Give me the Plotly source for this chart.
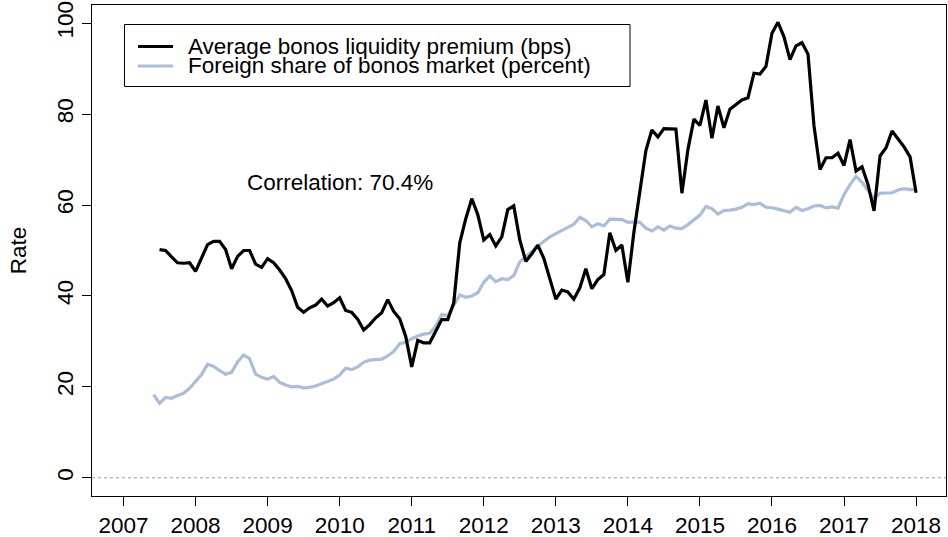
import pandas as pd
import plotly.graph_objects as go

# Monthly observations
blue_start = "2007-06"
black_start = "2007-07"

premium_bps = [
    50.2, 50.0, 48.6, 47.3, 47.2, 47.3, 45.4, 48.3, 51.3, 52.0, 52.0, 50.2,
    46.0, 48.7, 50.0, 50.0, 47.0, 46.3, 48.2, 47.3, 45.7, 43.8, 41.2, 37.5,
    36.4, 37.4, 38.0, 39.3, 37.8, 38.5, 39.6, 36.8, 36.4, 34.9, 32.5, 33.7,
    35.2, 36.3, 39.2, 36.6, 35.0, 31.1, 24.4, 30.2, 29.7, 29.7, 32.2, 34.8,
    34.8, 38.5, 51.7, 57.0, 61.4, 57.9, 52.3, 53.5, 51.0, 53.0, 59.0, 59.8,
    52.3, 47.6, 49.3, 51.2, 48.3, 44.0, 39.3, 41.3, 40.9, 39.3, 41.8, 46.0,
    41.6, 43.6, 44.7, 53.9, 50.0, 51.2, 43.0, 54.0, 63.5, 72.0, 76.5, 75.0,
    76.8, 76.8, 76.7, 62.6, 72.2, 78.9, 77.5, 83.1, 74.7, 81.8, 77.0, 81.1,
    82.2, 83.1, 83.6, 89.0, 88.8, 90.5, 97.8, 100.2, 97.0, 92.0, 95.0, 95.7,
    93.2, 77.4, 67.8, 70.4, 70.4, 71.4, 68.7, 74.4, 67.5, 68.4, 64.5, 58.7,
    70.8, 72.6, 76.3, 74.6, 72.8, 70.6, 62.7,
]

foreign_share = [
    18.3, 16.4, 17.7, 17.5, 18.1, 18.6, 19.7, 21.1, 22.7, 25.0, 24.5, 23.6,
    22.8, 23.2, 25.5, 27.0, 26.2, 22.8, 22.1, 21.7, 22.3, 21.0, 20.4, 20.0,
    20.1, 19.8, 19.9, 20.2, 20.7, 21.1, 21.7, 22.6, 24.1, 23.8, 24.4, 25.4,
    25.9, 26.0, 26.1, 26.8, 27.8, 29.5, 29.8, 30.6, 31.2, 31.6, 31.8, 33.4,
    35.9, 35.7, 38.1, 40.2, 39.7, 40.0, 40.7, 43.0, 44.4, 43.1, 43.8, 43.6,
    44.5, 47.5, 48.7, 49.7, 51.0, 52.1, 53.0, 53.7, 54.5, 55.1, 55.8, 57.3,
    56.6, 55.2, 55.9, 55.4, 56.9, 56.8, 56.8, 56.2, 56.3, 56.2, 54.9, 54.3,
    55.2, 54.5, 55.4, 54.9, 54.8, 55.7, 56.7, 57.8, 59.7, 59.2, 58.0, 58.8,
    58.9, 59.1, 59.5, 60.3, 60.1, 60.4, 59.5, 59.4, 59.1, 58.8, 58.4, 59.5,
    58.8, 59.2, 59.8, 59.9, 59.4, 59.6, 59.3, 62.3, 64.5, 66.3, 65.0, 63.2,
    61.4, 62.6, 62.6, 62.7, 63.3, 63.6, 63.4, 63.4,
]

year_ticks = list(range(2007, 2019))
rate_ticks = [0, 20, 40, 60, 80, 100]
series_names = ["Average bonos liquidity premium (bps)",
                "Foreign share of bonos market (percent)"]
correlation_text = "Correlation: 70.4%"


def decimal_years(start, n):
    per = pd.period_range(start, periods=n, freq="M")
    return [p.year + (p.month - 1) / 12 for p in per]


x_black = decimal_years(black_start, len(premium_bps))
x_blue = decimal_years(blue_start, len(foreign_share))

BLUE = "#aabedc"
FONT = "Arial, Liberation Sans, sans-serif"
FS = 22.5

fig = go.Figure()
fig.add_trace(go.Scatter(x=x_blue, y=foreign_share, mode="lines",
                         line=dict(color=BLUE, width=3.2), name=series_names[1],
                         showlegend=False))
fig.add_trace(go.Scatter(x=x_black, y=premium_bps, mode="lines",
                         line=dict(color="black", width=3.2), name=series_names[0],
                         showlegend=False))

# zero reference line
fig.add_shape(type="line", xref="paper", yref="y", x0=0, x1=1, y0=0, y1=0,
              line=dict(color="#999999", width=1, dash="dot"), layer="below")

# manual legend (R-style box)
L, R_, T, B = 92, 2, 5, 41
W, H = 948 - L - R_, 537 - T - B


def px(xp):
    return (xp - L) / W


def py(yp):
    return (537 - B - yp) / H


fig.add_shape(type="rect", xref="paper", yref="paper",
              x0=px(124.5), x1=px(630), y0=py(86.5), y1=py(24.5),
              line=dict(color="black", width=1), fillcolor="white")
for i, (name, col) in enumerate(zip(series_names, ["black", BLUE])):
    yy = py(46.5 + 19.5 * i)
    fig.add_shape(type="line", xref="paper", yref="paper",
                  x0=px(138), x1=px(173), y0=yy, y1=yy,
                  line=dict(color=col, width=3.2))
    fig.add_annotation(xref="paper", yref="paper", x=px(186), y=yy,
                       text=name, showarrow=False, xanchor="left",
                       yanchor="middle", font=dict(size=FS, color="black", family=FONT))

fig.add_annotation(x=2010.0, y=65, xref="x", yref="y", text=correlation_text,
                   showarrow=False, font=dict(size=FS, color="black", family=FONT))

fig.update_layout(
    width=948, height=537,
    margin=dict(l=L, r=R_, t=T, b=B, pad=0, autoexpand=False),
    paper_bgcolor="white", plot_bgcolor="white",
    font=dict(family=FONT, size=FS, color="black"),
    showlegend=False,
)
fig.update_xaxes(range=[2006.5625, 2006.5625 + W / 72.05], automargin=False,
                 tickvals=year_ticks, ticktext=[str(y) for y in year_ticks],
                 showgrid=False, zeroline=False, showline=True, linecolor="black",
                 linewidth=1, mirror=True, ticks="outside", ticklen=9,
                 tickcolor="black", tickfont=dict(size=FS), ticklabelstandoff=0)
fig.update_yaxes(range=[-4, 104], tickvals=rate_ticks, automargin=False,
                 showgrid=False, zeroline=False, showline=True, linecolor="black",
                 linewidth=1, mirror=True, ticks="outside", ticklen=9,
                 tickcolor="black", tickangle=-90, tickfont=dict(size=FS),
                 title=dict(text="Rate", font=dict(size=FS), standoff=20))

fig.write_html("out.html", config={"displayModeBar": False},
               post_script="document.body.style.margin='0';"
                           "document.body.style.overflow='hidden';")
